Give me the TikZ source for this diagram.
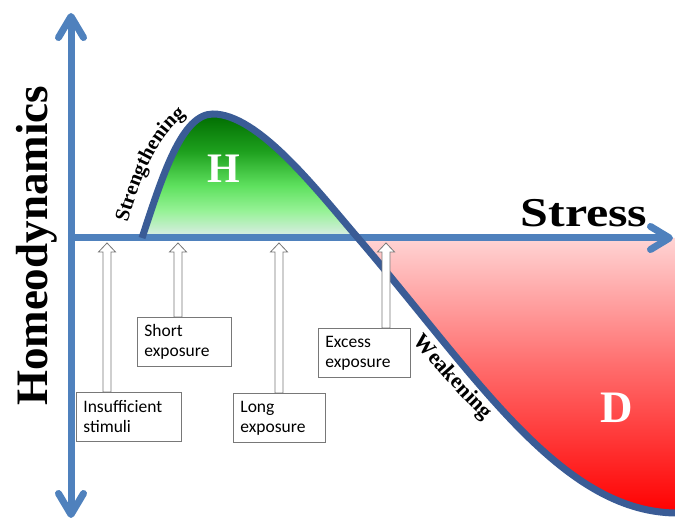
\documentclass[tikz,border=0pt]{standalone}
\usepackage{fontspec}
\setmainfont{Liberation Serif}
\setsansfont{Carlito}
\usetikzlibrary{positioning, arrows.meta, calc, decorations.text}
\definecolor{caxis}{RGB}{79,129,189}
\definecolor{ccurve}{RGB}{58,92,150}
\definecolor{cframe}{RGB}{120,120,120}
\definecolor{cgreentop}{RGB}{0,108,0}
\definecolor{cgreendark}{RGB}{30,160,30}
\definecolor{cgreenmid}{RGB}{95,225,95}
\definecolor{cgreenlight}{RGB}{150,242,150}
\definecolor{cgreenlow}{RGB}{224,236,236}
\definecolor{credtop}{RGB}{255,212,212}
\definecolor{credmid}{RGB}{255,110,110}
\pgfdeclareverticalshading{hzone}{100bp}{color(0bp)=(cgreenlow); color(25bp)=(cgreenlow);
  color(36bp)=(cgreenlight); color(46bp)=(cgreenmid); color(60bp)=(cgreendark);
  color(75bp)=(cgreentop); color(100bp)=(cgreentop)}
\pgfdeclareverticalshading{dzone}{100bp}{color(0bp)=(red); color(25bp)=(red);
  color(52bp)=(credmid); color(75bp)=(credtop); color(100bp)=(credtop)}
\tikzset{
  expbox/.style={draw=cframe, fill=white, line width=0.8pt, align=left,
    font=\sffamily\fontsize{17.5}{20}\selectfont, inner xsep=7pt, inner ysep=0pt,
    minimum height=49pt, anchor=north west},
  blockarrow/.style={draw=cframe, fill=white, line width=0.8pt,
    to path={let \p1=(\tikztostart), \p2=(\tikztotarget) in
      (\x2-4pt,\y1) -- (\x2-4pt,\y2-9pt) -- (\x2-8.5pt,\y2-9pt) -- (\x2,\y2)
      -- (\x2+8.5pt,\y2-9pt) -- (\x2+4pt,\y2-9pt) -- (\x2+4pt,\y1) -- cycle}},
  axisline/.style={caxis, line width=7pt}
}
\newcommand{\curvefont}{\bfseries\fontsize{20.5}{20.5}\selectfont}
\newcommand{\weakfont}{\bfseries\fontsize{22}{22}\selectfont}

\begin{document}
\begin{tikzpicture}[x=1pt, y=1pt]
  \useasboundingbox (0,0) rectangle (675,519);

  % zones under the curve
  \shade[shading=hzone]
    (142,281) .. controls (163,345) and (182,405) .. (213,405)
              .. controls (258,405) and (316,330) .. (358,281) -- cycle;
  \shade[shading=dzone]
    (358,281) .. controls (476,143) and (560,8) .. (675,6) -- (675,281) -- cycle;

  % axes
  \coordinate (ybot) at (71,1);
  \coordinate (ytop) at (71,506);
  \coordinate (xorig) at (71,281);
  \coordinate (xend) at (673,281);
  \draw[axisline, {Straight Barb[length=21pt, width=25pt, round]}-{Straight Barb[length=21pt, width=25pt, round]}]
    (ybot) -- (ytop);
  \draw[axisline, -{Straight Barb[length=19pt, width=23pt, round]}] (xorig) -- (xend);

  % response curve
  \draw[ccurve, line width=7pt]
    (142,281) .. controls (163,345) and (182,405) .. (213,405)
              .. controls (258,405) and (316,330) .. (358,281)
              .. controls (476,143) and (560,8) .. (675,6);

  \node[rotate=90, anchor=base, font=\bfseries\fontsize{45}{45}\selectfont] (homeo)
       at (47,273) {Homeodynamics};
  \node[anchor=base west, font=\bfseries\fontsize{41}{41}\selectfont] (stress)
       at (517,292) {\scalebox{1.22}[1]{Stress}};
  \node[anchor=base, text=white, font=\bfseries\fontsize{42}{42}\selectfont] (hzone)
       at (224,336) {H};
  \node[anchor=base, text=white, font=\bfseries\fontsize{45}{45}\selectfont] (dzone)
       at (617,96) {D};

  \path[decorate, decoration={text along path, text align=center,
        text={|\curvefont|Strengthening}}]
    (127,294) .. controls (142,350) and (162,388) .. (188,405);
  \path[decorate, decoration={text along path, text align=center,
        text={|\weakfont|Weakening}}]
    (402,190) .. controls (432,156) and (459,122) .. (497,88);

  % exposure boxes
  \node[expbox, text width=91pt] (insuf) at (76,127) {Insufficient\\stimuli};
  \node[expbox, text width=80pt] (short) at (137,202) {Short\\exposure};
  \node[expbox, text width=78pt] (long) at (233,126) {Long\\exposure};
  \node[expbox, text width=78pt] (excess) at (318,191) {Excess\\exposure};

  \coordinate (tinsuf) at (107,276);
  \coordinate (tshort) at (178,276);
  \coordinate (tlong) at (279,276);
  \coordinate (texcess) at (386,276);
  \draw[blockarrow] (insuf.north -| tinsuf) to (tinsuf);
  \draw[blockarrow] (short.north -| tshort) to (tshort);
  \draw[blockarrow] (long.north -| tlong) to (tlong);
  \draw[blockarrow] (excess.north -| texcess) to (texcess);
\end{tikzpicture}
\end{document}
